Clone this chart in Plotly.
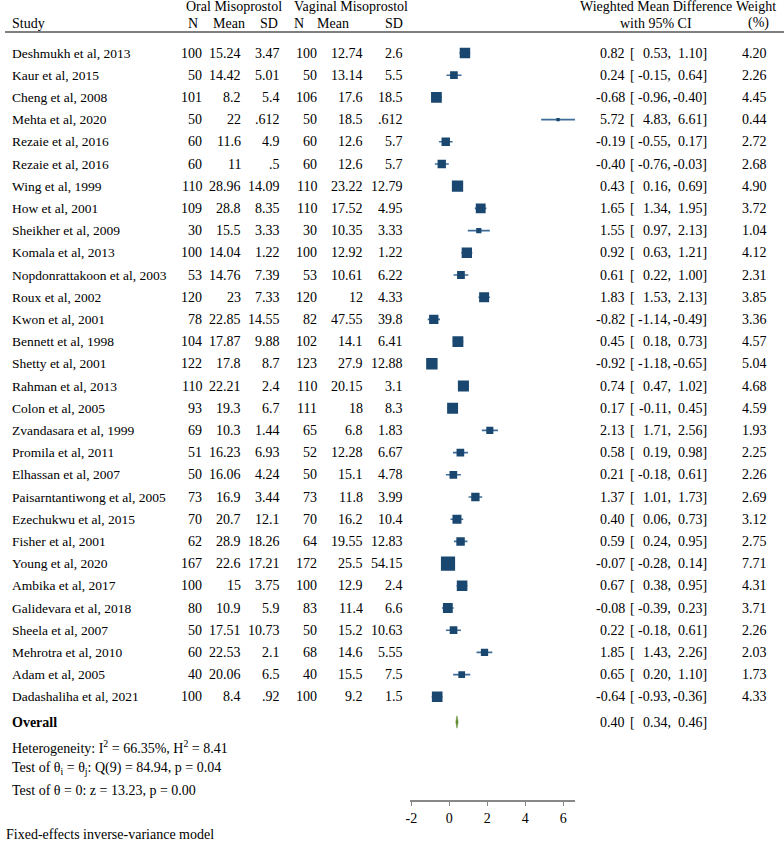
import plotly.graph_objects as go

studies = ["Deshmukh et al, 2013", "Kaur et al, 2015", "Cheng et al, 2008", "Mehta et al, 2020",
           "Rezaie et al, 2016", "Rezaie et al, 2016", "Wing et al, 1999", "How et al, 2001",
           "Sheikher et al, 2009", "Komala et al, 2013", "Nopdonrattakoon et al, 2003", "Roux et al, 2002",
           "Kwon et al, 2001", "Bennett et al, 1998", "Shetty et al, 2001", "Rahman et al, 2013",
           "Colon et al, 2005", "Zvandasara et al, 1999", "Promila et al, 2011", "Elhassan et al, 2007",
           "Paisarntantiwong et al, 2005", "Ezechukwu et al, 2015", "Fisher et al, 2001", "Young et al, 2020",
           "Ambika et al, 2017", "Galidevara et al, 2018", "Sheela et al, 2007", "Mehrotra et al, 2010",
           "Adam et al, 2005", "Dadashaliha et al, 2021"]
oral_n = [100, 50, 101, 50, 60, 60, 110, 109, 30, 100, 53, 120, 78, 104, 122, 110, 93, 69, 51, 50,
          73, 70, 62, 167, 100, 80, 50, 60, 40, 100]
oral_mean = [15.24, 14.42, 8.2, 22, 11.6, 11, 28.96, 28.8, 15.5, 14.04, 14.76, 23, 22.85, 17.87, 17.8,
             22.21, 19.3, 10.3, 16.23, 16.06, 16.9, 20.7, 28.9, 22.6, 15, 10.9, 17.51, 22.53, 20.06, 8.4]
oral_sd = [3.47, 5.01, 5.4, 0.612, 4.9, 0.5, 14.09, 8.35, 3.33, 1.22, 7.39, 7.33, 14.55, 9.88, 8.7,
           2.4, 6.7, 1.44, 6.93, 4.24, 3.44, 12.1, 18.26, 17.21, 3.75, 5.9, 10.73, 2.1, 6.5, 0.92]
vag_n = [100, 50, 106, 50, 60, 60, 110, 110, 30, 100, 53, 120, 82, 102, 123, 110, 111, 65, 52, 50,
         73, 70, 64, 172, 100, 83, 50, 68, 40, 100]
vag_mean = [12.74, 13.14, 17.6, 18.5, 12.6, 12.6, 23.22, 17.52, 10.35, 12.92, 10.61, 12, 47.55, 14.1,
            27.9, 20.15, 18, 6.8, 12.28, 15.1, 11.8, 16.2, 19.55, 25.5, 12.9, 11.4, 15.2, 14.6, 15.5, 9.2]
vag_sd = [2.6, 5.5, 18.5, 0.612, 5.7, 5.7, 12.79, 4.95, 3.33, 1.22, 6.22, 4.33, 39.8, 6.41, 12.88,
          3.1, 8.3, 1.83, 6.67, 4.78, 3.99, 10.4, 12.83, 54.15, 2.4, 6.6, 10.63, 5.55, 7.5, 1.5]
wmd = [0.82, 0.24, -0.68, 5.72, -0.19, -0.40, 0.43, 1.65, 1.55, 0.92, 0.61, 1.83, -0.82, 0.45, -0.92,
       0.74, 0.17, 2.13, 0.58, 0.21, 1.37, 0.40, 0.59, -0.07, 0.67, -0.08, 0.22, 1.85, 0.65, -0.64]
ci_low = [0.53, -0.15, -0.96, 4.83, -0.55, -0.76, 0.16, 1.34, 0.97, 0.63, 0.22, 1.53, -1.14, 0.18, -1.18,
          0.47, -0.11, 1.71, 0.19, -0.18, 1.01, 0.06, 0.24, -0.28, 0.38, -0.39, -0.18, 1.43, 0.20, -0.93]
ci_high = [1.10, 0.64, -0.40, 6.61, 0.17, -0.03, 0.69, 1.95, 2.13, 1.21, 1.00, 2.13, -0.49, 0.73, -0.65,
           1.02, 0.45, 2.56, 0.98, 0.61, 1.73, 0.73, 0.95, 0.14, 0.95, 0.23, 0.61, 2.26, 1.10, -0.36]
weights = [4.20, 2.26, 4.45, 0.44, 2.72, 2.68, 4.90, 3.72, 1.04, 4.12, 2.31, 3.85, 3.36, 4.57, 5.04,
           4.68, 4.59, 1.93, 2.25, 2.26, 2.69, 3.12, 2.75, 7.71, 4.31, 3.71, 2.26, 2.03, 1.73, 4.33]
overall = 0.40
overall_low = 0.34
overall_high = 0.46
axis_ticks = [-2, 0, 2, 4, 6]

W, H = 784, 841
ROW0, STEP = 53.0, 22.2
FONT = "Liberation Serif"
FS = 14
FS_NAME = 13.5


def ypos(p):
    return (p - ROW0) / STEP


def px(x):
    return x / W


def fmt(v):
    s = f"{v:g}"
    if s.startswith("0."):
        s = s[1:]
    return s


rows = list(range(len(studies)))
overall_row = ypos(722)

fig = go.Figure()

# CI lines (drawn first, beneath the markers)
fig.add_trace(go.Scatter(
    x=wmd, y=rows, mode="markers",
    marker=dict(size=1, color="rgba(0,0,0,0)"),
    error_x=dict(type="data", symmetric=False,
                 array=[h - e for h, e in zip(ci_high, wmd)],
                 arrayminus=[e - l for e, l in zip(wmd, ci_low)],
                 color="#3f6d99", thickness=1.6, width=0),
    hoverinfo="skip", showlegend=False))

# study markers
fig.add_trace(go.Scatter(
    x=wmd, y=rows, mode="markers",
    marker=dict(symbol="square", color="#1a476f", opacity=1,
                size=[5.1 * w ** 0.5 for w in weights], line=dict(width=0)),
    hoverinfo="skip", showlegend=False))

# overall diamond
dh = 0.28
fig.add_trace(go.Scatter(
    x=[overall_low, overall, overall_high, overall, overall_low],
    y=[overall_row, overall_row - dh, overall_row, overall_row + dh, overall_row],
    mode="lines", fill="toself", fillcolor="#5f8a2a",
    line=dict(color="#5f8a2a", width=0.5), hoverinfo="skip", showlegend=False))

ann = []


def add(text, x, p_or_row, anchor="left", is_row=False, bold=False, size=FS):
    y = p_or_row if is_row else ypos(p_or_row)
    ann.append(dict(text=("<b>%s</b>" % text) if bold else text, x=px(x), y=y,
                    xref="paper", yref="y", xanchor=anchor, yanchor="middle",
                    showarrow=False, borderpad=0,
                    font=dict(family=FONT, size=size, color="black")))


# headers
add("Oral Misoprostol", 230, 6, "center")
add("Vaginal Misoprostol", 348, 6, "center")
add("Study", 6, 23)
for t, x in [("N", 189), ("Mean", 225), ("SD", 266), ("N", 296), ("Mean", 330), ("SD", 391)]:
    add(t, x, 23, "center")
add("Wieghted Mean Difference", 655, 6, "center")
add("with 95% CI", 655, 23, "center")
add("Weight", 756, 6, "center")
add("(%)", 758, 23, "center")

for i in rows:
    add(studies[i], 6, i, "left", is_row=True, size=FS_NAME)
    add(fmt(oral_n[i]), 199, i, "right", is_row=True)
    add(fmt(oral_mean[i]), 239, i, "right", is_row=True)
    add(fmt(oral_sd[i]), 278, i, "right", is_row=True)
    add(fmt(vag_n[i]), 315, i, "right", is_row=True)
    add(fmt(vag_mean[i]), 361, i, "right", is_row=True)
    add(fmt(vag_sd[i]), 402, i, "right", is_row=True)
    add(f"{wmd[i]:.2f}", 625, i, "right", is_row=True)
    add("[", 628, i, "left", is_row=True)
    add(f"{ci_low[i]:.2f},", 671, i, "right", is_row=True)
    add(f"{ci_high[i]:.2f}]", 708, i, "right", is_row=True)
    add(f"{weights[i]:.2f}", 768, i, "right", is_row=True)

add("Overall", 6, overall_row, "left", is_row=True, bold=True)
add(f"{overall:.2f}", 625, overall_row, "right", is_row=True)
add("[", 628, overall_row, "left", is_row=True)
add(f"{overall_low:.2f},", 671, overall_row, "right", is_row=True)
add(f"{overall_high:.2f}]", 708, overall_row, "right", is_row=True)

add("Heterogeneity: I<sup>2</sup> = 66.35%, H<sup>2</sup> = 8.41", 6, 747)
add("Test of θ<sub>i</sub> = θ<sub>j</sub>: Q(9) = 84.94, p = 0.04", 6, 768)
add("Test of θ = 0: z = 13.23, p = 0.00", 6, 790)
add("Fixed-effects inverse-variance model", 0, 834)

fig.update_layout(
    width=W, height=H, autosize=False,
    margin=dict(l=0, r=0, t=0, b=0),
    paper_bgcolor="white", plot_bgcolor="white",
    annotations=ann,
    shapes=[dict(type="line", xref="paper", yref="y", x0=0, x1=1,
                 y0=ypos(32), y1=ypos(32), line=dict(color="black", width=1.2))],
    xaxis=dict(domain=[408 / W, 574 / W], range=[-2.05, 6.63],
               anchor="free", position=1 - 801 / H,
               showline=True, linecolor="#888888", linewidth=1.5,
               ticks="outside", ticklen=4, tickcolor="#888888", tickwidth=1,
               tickvals=axis_ticks, ticktext=[str(t) for t in axis_ticks],
               tickfont=dict(family=FONT, size=FS, color="black"),
               showgrid=False, zeroline=False, fixedrange=True),
    yaxis=dict(domain=[0, 1], range=[ypos(H), ypos(0)], visible=False,
               showgrid=False, zeroline=False, fixedrange=True),
)

fig.write_html("out.html", config={"displayModeBar": False},
               post_script="document.body.style.margin='0';")
